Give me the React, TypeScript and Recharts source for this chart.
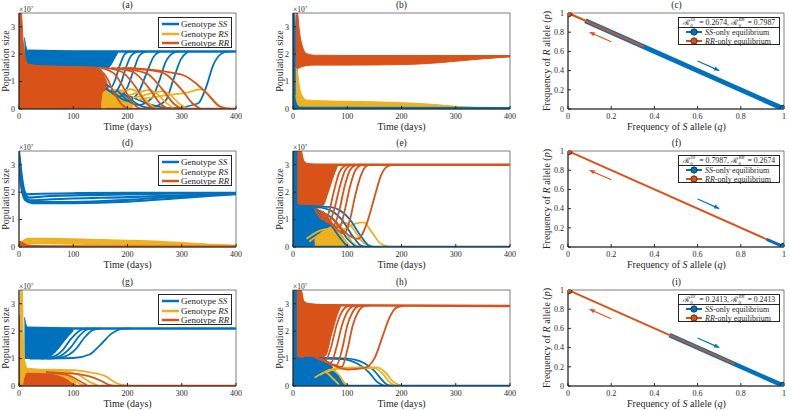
import React from 'react';
import { ComposedChart, Line, Area, Scatter, XAxis, YAxis, ReferenceArea } from 'recharts';

const BLUE = '#0072BD';
const YELLOW = '#EDB120';
const ORANGE = '#D95319';
const INK = '#262626';
const FONT = '"Liberation Serif", "DejaVu Serif", serif';

type Pts = number[][];

const timeTicks = [0, 100, 200, 300, 400];
const popTicks = [0, 1, 2, 3];
const freqTicks = [0, 0.2, 0.4, 0.6, 0.8, 1];

// population sizes in units of 1e7; bands are [t, low, high], lines are [t, value]

// (a)
const aBlueBand = [[10, 1.6, 2.6], [14, 1.6, 2.2], [18, 1.6, 2.12], [30, 1.58, 2.1], [100, 1.55, 2.1], [150, 1.52, 2.1], [165, 1.52, 2.1], [175, 1.8, 2.1], [182, 2.05, 2.1]];
const aOrangeBand = [[0, 0, 3.5], [4, 0, 3.5], [8, 0, 2.4], [12, 0, 1.85], [18, 0, 1.63], [40, 0, 1.58], [100, 0, 1.55], [145, 0, 1.52], [155, 0, 1.3], [165, 0, 0.75]];
const aYellowBand = [[152, 0, 0.1], [156, 0, 0.62], [170, 0, 0.7], [190, 0, 0.7], [200, 0, 0.4], [210, 0, 0.08]];
const aBlueTop = [[17, 2.12], [100, 2.1], [400, 2.1]];
const aBlueRise = [
  [[160, 0.9], [170, 0.8], [178, 1.1], [186, 1.6], [195, 2.0], [205, 2.1]],
  [[160, 0.75], [175, 0.6], [188, 0.95], [197, 1.5], [207, 1.95], [220, 2.1]],
  [[165, 0.7], [185, 0.45], [200, 0.8], [212, 1.45], [222, 1.95], [235, 2.1]],
  [[170, 0.7], [200, 0.3], [220, 0.6], [235, 1.3], [248, 1.9], [260, 2.1]],
  [[180, 0.7], [220, 0.15], [245, 0.4], [258, 1.0], [270, 1.7], [285, 2.05], [295, 2.1]],
  [[190, 0.6], [240, 0.05], [270, 0.3], [285, 1.1], [298, 1.8], [312, 2.1]],
  [[200, 0.5], [280, 0.03], [330, 0.2], [345, 0.8], [358, 1.6], [372, 2.0], [385, 2.1]],
];
const aYellowHump = [
  [[190, 0.6], [205, 0.72], [220, 0.6], [235, 0.3], [250, 0.05], [265, 0]],
  [[200, 0.5], [220, 0.6], [240, 0.7], [255, 0.55], [270, 0.25], [285, 0.03]],
  [[210, 0.4], [240, 0.55], [265, 0.65], [280, 0.5], [295, 0.2], [310, 0.02]],
  [[220, 0.35], [270, 0.5], [310, 0.6], [335, 0.72], [350, 0.5], [365, 0.15], [380, 0.02], [400, 0]],
];
const aOrangeFall = [
  [[140, 1.5], [160, 1.2], [175, 0.6], [190, 0.15], [205, 0]],
  [[150, 1.5], [175, 1.3], [195, 0.7], [210, 0.2], [225, 0]],
  [[160, 1.5], [190, 1.35], [215, 0.8], [235, 0.2], [250, 0]],
  [[170, 1.5], [210, 1.35], [240, 0.75], [260, 0.2], [275, 0]],
  [[180, 1.5], [235, 1.3], [265, 0.7], [285, 0.2], [300, 0]],
  [[190, 1.5], [260, 1.35], [300, 0.7], [320, 0.2], [335, 0]],
  [[200, 1.5], [300, 1.25], [345, 0.6], [370, 0.1], [390, 0]],
];
const aOrangeFloor = [[160, 0], [400, 0]];

// (b)
const bBlueBand = [[0, 0, 3.5], [3, 0, 3.5], [5, 0, 2.6], [7, 0, 1.5], [10, 0, 0.6], [15, 0, 0.25], [25, 0, 0.12], [50, 0, 0.08]];
const bOrangeBand = [[5, 1.5, 3.5], [8, 1.45, 3.5], [12, 1.5, 2.8], [18, 1.55, 2.25], [25, 1.58, 2.02], [40, 1.6, 1.96], [100, 1.6, 1.95], [200, 1.62, 1.95], [250, 1.66, 1.95], [300, 1.74, 1.95], [350, 1.83, 1.95], [400, 1.9, 1.95]];
const bYellowBand = [[5, 0.5, 1.5], [8, 0.2, 1.4], [12, 0.1, 0.8], [18, 0.08, 0.45], [25, 0.07, 0.33], [50, 0.06, 0.3], [100, 0.05, 0.28], [150, 0.05, 0.26], [200, 0.04, 0.23], [250, 0.03, 0.18], [300, 0.02, 0.1], [350, 0.01, 0.05], [400, 0, 0.03]];
const bBlueFloor = [[10, 0.03], [400, 0.02]];

// (d)
const dBlue = [
  [[0, 3.5], [5, 2.6], [10, 2.05], [15, 1.92], [25, 1.93], [100, 1.96], [200, 1.97], [400, 1.97]],
  [[0, 3.35], [5, 2.45], [10, 1.92], [20, 1.8], [50, 1.85], [150, 1.9], [300, 1.95], [400, 1.96]],
  [[0, 3.15], [5, 2.3], [10, 1.85], [20, 1.7], [60, 1.74], [200, 1.82], [300, 1.88], [400, 1.95]],
  [[0, 3.0], [5, 2.2], [12, 1.75], [25, 1.64], [100, 1.64], [200, 1.72], [300, 1.85], [400, 1.94]],
  [[0, 2.85], [5, 2.1], [12, 1.7], [25, 1.6], [100, 1.6], [200, 1.65], [300, 1.79], [400, 1.93]],
];
const dYellow = [
  [[0, 0], [10, 0.25], [20, 0.3], [50, 0.3], [150, 0.25], [250, 0.2], [350, 0.08], [400, 0.04]],
  [[0, 0], [10, 0.2], [25, 0.27], [100, 0.24], [200, 0.2], [300, 0.1], [400, 0.03]],
  [[0, 0], [10, 0.15], [25, 0.2], [100, 0.18], [200, 0.14], [300, 0.07], [400, 0.02]],
  [[0, 0], [10, 0.1], [30, 0.15], [150, 0.1], [300, 0.04], [400, 0.01]],
];
const dOrange = [
  [[0, 0.2], [5, 0.15], [15, 0.05], [50, 0.02], [400, 0]],
  [[0, 0.1], [10, 0.05], [30, 0.01], [400, 0]],
];

// (e)
const eBlueBand = [[0, 0, 3.5], [8, 0, 3.5], [12, 0, 1.8], [18, 0, 1.55], [40, 0, 1.45], [55, 0, 1.2], [70, 0, 0.8], [85, 0, 0.35], [100, 0, 0.05]];
const eOrangeBand = [[8, 1.6, 3.5], [15, 1.55, 3.5], [20, 1.55, 3.15], [28, 1.5, 3.03], [45, 1.45, 3.0], [55, 1.5, 3.0], [65, 2.0, 3.0], [75, 2.6, 3.0], [82, 2.95, 3.0]];
const eYellowBand = [[40, 0, 0.3], [55, 0, 0.55], [70, 0, 0.7], [85, 0, 0.6], [95, 0, 0.3], [105, 0, 0.05]];
const eOrangeTop = [[20, 3.02], [60, 3.0], [400, 3.0]];
const eBlueFall = [
  [[20, 1.5], [60, 1.4], [90, 1.0], [110, 0.4], [125, 0.05], [135, 0]],
  [[20, 1.5], [70, 1.45], [105, 1.0], [125, 0.4], [140, 0.05], [150, 0]],
  [[20, 1.45], [50, 1.3], [80, 0.9], [100, 0.3], [115, 0.02]],
  [[20, 1.4], [45, 1.2], [70, 0.8], [88, 0.3], [100, 0.02]],
];
const eYellowHump = [
  [[30, 0.2], [60, 0.6], [80, 0.8], [95, 0.6], [110, 0.15], [125, 0]],
  [[40, 0.2], [70, 0.6], [95, 0.88], [110, 0.7], [125, 0.25], [140, 0.02]],
  [[50, 0.2], [90, 0.6], [115, 0.85], [130, 0.9], [145, 0.55], [160, 0.15], [175, 0.02]],
  [[25, 0.3], [50, 0.6], [65, 0.65], [80, 0.35], [95, 0.05]],
];
const eOrangeRise = [
  [[40, 1.4], [55, 1.0], [65, 1.2], [75, 2.0], [85, 2.7], [95, 2.95], [105, 3.0]],
  [[45, 1.4], [65, 0.9], [75, 1.3], [85, 2.1], [95, 2.75], [105, 2.97], [115, 3.0]],
  [[50, 1.35], [75, 0.8], [85, 1.3], [95, 2.2], [105, 2.8], [115, 2.98], [125, 3.0]],
  [[55, 1.3], [85, 0.7], [95, 1.3], [105, 2.2], [115, 2.8], [125, 2.98], [135, 3.0]],
  [[60, 1.2], [95, 0.5], [105, 1.0], [115, 1.9], [125, 2.6], [135, 2.95], [145, 3.0]],
  [[70, 1.1], [120, 0.3], [135, 0.8], [150, 1.8], [162, 2.6], [175, 2.95], [190, 3.0]],
];
const eBlueFloor = [[0, 0], [400, 0]];

// (g)
const gBlueBand = [[10, 1.0, 2.5], [15, 1.0, 2.15], [20, 1.0, 2.1], [50, 1.0, 2.1], [60, 1.1, 2.1], [70, 1.3, 2.1], [80, 1.55, 2.1], [90, 1.8, 2.1], [100, 2.0, 2.1]];
const gOrangeBand = [[0, 0, 2.6], [2, 0, 2.0], [5, 0, 1.2], [9, 0, 0.7], [15, 0, 0.55], [50, 0, 0.5], [70, 0, 0.45], [85, 0, 0.3], [100, 0, 0.08], [110, 0, 0]];
const gYellowBand = [[2, 0, 3.5], [6, 0, 3.5], [8, 0.2, 1.8], [11, 0.4, 0.9], [15, 0.5, 0.66], [25, 0.5, 0.63], [50, 0.48, 0.6], [70, 0.42, 0.55], [90, 0.25, 0.4], [105, 0.05, 0.15]];
const gBlueTop = [[15, 2.12], [100, 2.1], [400, 2.1]];
const gBlueRise = [
  [[40, 1.0], [60, 1.05], [80, 1.3], [95, 1.7], [110, 2.0], [125, 2.1]],
  [[50, 1.0], [70, 1.05], [95, 1.4], [110, 1.8], [125, 2.05], [140, 2.1]],
  [[55, 1.0], [80, 1.05], [105, 1.35], [120, 1.75], [135, 2.03], [150, 2.1]],
  [[20, 1.0], [100, 1.02], [130, 1.15], [150, 1.5], [170, 1.9], [190, 2.08], [205, 2.1]],
];
const gYellowFall = [
  [[50, 0.6], [100, 0.58], [130, 0.5], [160, 0.35], [180, 0.1], [195, 0.02], [210, 0]],
  [[40, 0.58], [80, 0.55], [110, 0.4], [130, 0.15], [145, 0.02]],
  [[30, 0.55], [70, 0.5], [95, 0.3], [115, 0.05], [125, 0]],
];
const gOrangeFall = [
  [[50, 0.5], [100, 0.45], [130, 0.35], [150, 0.2], [165, 0.05], [175, 0]],
  [[50, 0.5], [90, 0.4], [110, 0.2], [125, 0.03]],
];
const gOrangeFloor = [[0, 0], [400, 0]];

// (h)
const hBlueBand = [[0, 0, 3.5], [8, 0, 3.5], [12, 0, 1.5], [16, 0, 1.05], [40, 0, 1.02], [60, 0, 0.95], [70, 0, 0.7], [85, 0, 0.3], [95, 0, 0.05]];
const hOrangeBand = [[7, 1.1, 3.5], [15, 1.05, 3.5], [20, 1.05, 3.1], [30, 1.05, 3.0], [50, 1.05, 2.96], [60, 1.1, 2.95], [70, 1.8, 2.94], [80, 2.5, 2.93], [88, 2.9, 2.93]];
const hOrangeTop = [[18, 3.0], [60, 2.94], [400, 2.92]];
const hBlueFall = [
  [[20, 1.03], [100, 1.0], [130, 0.85], [150, 0.55], [165, 0.2], [175, 0.03], [185, 0]],
  [[20, 1.02], [90, 0.98], [120, 0.8], [140, 0.5], [155, 0.15], [168, 0.01]],
  [[20, 1.0], [60, 0.9], [75, 0.6], [90, 0.2], [100, 0.02]],
];
const hYellowHump = [
  [[60, 0.5], [80, 0.65], [120, 0.68], [155, 0.68], [170, 0.5], [185, 0.15], [200, 0.01]],
  [[60, 0.5], [80, 0.62], [120, 0.65], [150, 0.65], [165, 0.45], [180, 0.1], [192, 0]],
  [[50, 0.4], [70, 0.6], [85, 0.4], [95, 0.1], [105, 0]],
  [[40, 0.3], [60, 0.5], [72, 0.3], [85, 0.05]],
];
const hOrangeRise = [
  [[40, 1.05], [60, 0.95], [70, 1.4], [80, 2.2], [90, 2.7], [100, 2.9], [110, 2.93]],
  [[45, 1.0], [70, 0.85], [80, 1.4], [90, 2.2], [100, 2.7], [110, 2.9], [120, 2.93]],
  [[50, 1.0], [80, 0.75], [90, 1.3], [100, 2.2], [110, 2.7], [120, 2.9], [130, 2.93]],
  [[55, 0.95], [90, 0.7], [100, 1.3], [110, 2.2], [120, 2.7], [130, 2.9], [140, 2.93]],
  [[60, 0.9], [100, 0.6], [130, 0.65], [150, 1.0], [165, 1.8], [178, 2.5], [190, 2.85], [205, 2.92]],
];
const hBlueFloor = [[0, 0], [400, 0]];

// phase planes: [q, p]
const rrEquilibrium = [[0, 1]];
const ssEquilibrium = [[1, 0]];
const arrowToR = [[0.2, 0.7], [0.1, 0.8]];
const arrowToS = [[0.6, 0.5], [0.7, 0.4]];
const cBlue = [[0.08, 0.92], [1, 0]];
const cOrange = [[0, 1], [0.35, 0.65]];
const fOrange = [[0, 1], [1, 0]];
const fBlue = [[0.92, 0.08], [1, 0]];
const iBlue = [[0.47, 0.53], [1, 0]];
const iOrange = [[0, 1], [0.77, 0.23]];

const cR0 = ['0.2674', '0.7987'];
const fR0 = ['0.7987', '0.2674'];
const iR0 = ['0.2413', '0.2413'];

const asLine = (a: Pts) => a.map(([t, v]) => ({ t, v }));
const asBand = (a: Pts) => a.map(([t, lo, hi]) => ({ t, r: [lo, hi] }));
const asPhase = (a: Pts) => a.map(([q, p]) => ({ q, p }));

const COLS = [19, 293, 568];
const ROWS = [13, 151, 290];
const PW = 217;
const PH = 96;
const ML = 30;
const MT = 6;
const MR = 6;
const MB = 22;

const tickFont = { fontSize: 8, fill: INK, fontFamily: FONT };
const axisCommon = {
  tick: tickFont,
  tickSize: -3,
  tickMargin: 7,
  stroke: INK,
  interval: 0 as const,
  allowDataOverflow: true,
};

type Series = [string, Pts, number?];

const TimePanel = ({ x, y, bands, lines }: { x: number; y: number; bands: Series[]; lines: Series[] }) => (
  <div style={{ position: 'absolute', left: x - ML, top: y - MT }}>
    <ComposedChart width={PW + ML + MR} height={PH + MT + MB} margin={{ top: MT, right: MR, bottom: 0, left: 0 }}>
      <XAxis type="number" dataKey="t" domain={[0, 400]} ticks={timeTicks} height={MB} {...axisCommon} />
      <YAxis type="number" domain={[0, 3.5]} ticks={popTicks} width={ML} {...axisCommon} />
      {bands.map(([c, d], i) => (
        <Area key={'b' + i} data={asBand(d)} dataKey="r" type="monotone" fill={c} fillOpacity={1}
          stroke={c} strokeWidth={1} dot={false} activeDot={false} isAnimationActive={false} />
      ))}
      {lines.map(([c, d, w], i) => (
        <Line key={'l' + i} data={asLine(d)} dataKey="v" type="monotone" stroke={c} strokeWidth={w ?? 1.8}
          dot={false} activeDot={false} isAnimationActive={false} />
      ))}
      <ReferenceArea x1={0} x2={400} y1={0} y2={3.5} fill="none" stroke={INK} strokeWidth={0.6} ifOverflow="visible" />
    </ComposedChart>
  </div>
);

const arrowHead = (c: string, d: Pts) => (props: any) => {
  const { cx, cy, index } = props;
  if (index !== d.length - 1) return <g key={index} />;
  const [q0, p0] = d[d.length - 2];
  const [q1, p1] = d[d.length - 1];
  const a = Math.atan2(-(p1 - p0) * PH, (q1 - q0) * (PW - 1));
  const L = 5;
  const W = 2.2;
  const bx = cx - L * Math.cos(a);
  const by = cy - L * Math.sin(a);
  const pts = `${cx},${cy} ${bx - W * Math.sin(a)},${by + W * Math.cos(a)} ${bx + W * Math.sin(a)},${by - W * Math.cos(a)}`;
  return <polygon key={index} points={pts} fill={c} />;
};

const eqDot = (c: string) => (props: any) => (
  <circle cx={props.cx} cy={props.cy} r={4} fill={c} stroke="#1a1a1a" strokeWidth={0.8} />
);

const PhasePanel = ({ x, y, lines }: { x: number; y: number; lines: Series[] }) => (
  <div style={{ position: 'absolute', left: x - ML, top: y - MT }}>
    <ComposedChart width={PW - 1 + ML + MR} height={PH + MT + MB} margin={{ top: MT, right: MR, bottom: 0, left: 0 }}>
      <XAxis type="number" dataKey="q" domain={[0, 1]} ticks={freqTicks} height={MB} {...axisCommon} />
      <YAxis type="number" dataKey="p" domain={[0, 1]} ticks={freqTicks} width={ML} {...axisCommon} />
      {lines.map(([c, d, w], i) => (
        <Line key={'l' + i} data={asPhase(d)} dataKey="p" type="linear" stroke={c} strokeWidth={w ?? 2}
          dot={false} activeDot={false} isAnimationActive={false} />
      ))}
      <Line data={asPhase(arrowToR)} dataKey="p" type="linear" stroke={ORANGE} strokeWidth={1.2}
        dot={arrowHead(ORANGE, arrowToR)} activeDot={false} isAnimationActive={false} />
      <Line data={asPhase(arrowToS)} dataKey="p" type="linear" stroke={BLUE} strokeWidth={1.2}
        dot={arrowHead(BLUE, arrowToS)} activeDot={false} isAnimationActive={false} />
      <Scatter data={asPhase(rrEquilibrium)} shape={eqDot(ORANGE)} isAnimationActive={false} />
      <Scatter data={asPhase(ssEquilibrium)} shape={eqDot(BLUE)} isAnimationActive={false} />
      <ReferenceArea x1={0} x2={1} y1={0} y2={1} fill="none" stroke={INK} strokeWidth={0.6} ifOverflow="visible" />
    </ComposedChart>
  </div>
);

const T = ({ x, y, size = 10, rot = 0, children }: { x: number; y: number; size?: number; rot?: number; children: React.ReactNode }) => (
  <div style={{
    position: 'absolute', left: x, top: y, transform: `translate(-50%, -50%) rotate(${rot}deg)`,
    fontSize: size, fontFamily: FONT, color: INK, whiteSpace: 'nowrap', lineHeight: 1,
  }}>{children}</div>
);

const genotypes: [string, string][] = [[BLUE, 'SS'], [YELLOW, 'RS'], [ORANGE, 'RR']];

const GenoLegend = ({ x, y }: { x: number; y: number }) => (
  <div style={{
    position: 'absolute', left: x, top: y, width: 74, height: 31, border: `0.8px solid ${INK}`,
    background: '#fff', boxSizing: 'border-box', fontFamily: FONT, fontSize: 9, color: INK,
  }}>
    {genotypes.map(([c, g], i) => (
      <div key={g} style={{ position: 'absolute', left: 3, top: 1.5 + i * 9.5, height: 9.5, display: 'flex', alignItems: 'center', whiteSpace: 'nowrap' }}>
        <svg width={17} height={4}><line x1={0} y1={2} x2={17} y2={2} stroke={c} strokeWidth={2.5} /></svg>
        <span style={{ marginLeft: 2 }}>Genotype <i>{g}</i></span>
      </div>
    ))}
  </div>
);

// script R with stacked superscript genotype and subscript 0
const R0 = ({ s }: { s: string }) => (
  <span style={{ whiteSpace: 'nowrap' }}>
    ℛ
    <span style={{ display: 'inline-block', position: 'relative', width: 7.5, height: 8, verticalAlign: 'middle' }}>
      <i style={{ position: 'absolute', left: 0.5, top: -2, fontSize: 5, lineHeight: 1 }}>{s}</i>
      <span style={{ position: 'absolute', left: 0.5, top: 4, fontSize: 5, lineHeight: 1 }}>0</span>
    </span>
  </span>
);

const EqLegend = ({ x, y, r0 }: { x: number; y: number; r0: string[] }) => (
  <div style={{
    position: 'absolute', left: x, top: y, width: 102, height: 28, border: `0.8px solid ${INK}`,
    background: '#fff', boxSizing: 'border-box', fontFamily: FONT, fontSize: 8, color: INK,
  }}>
    <div style={{ height: 9, borderBottom: `0.6px solid ${INK}`, fontSize: 7.8, textAlign: 'center', lineHeight: '9px', whiteSpace: 'nowrap' }}>
      <R0 s="SS" /> = {r0[0]}, <R0 s="RR" /> = {r0[1]}
    </div>
    {([[BLUE, 'SS'], [ORANGE, 'RR']] as [string, string][]).map(([c, g], i) => (
      <div key={g} style={{ position: 'absolute', left: 7, top: 10 + i * 8.7, height: 8.7, display: 'flex', alignItems: 'center', whiteSpace: 'nowrap' }}>
        <svg width={16} height={8}>
          <line x1={0} y1={4} x2={16} y2={4} stroke={c} strokeWidth={2} />
          <circle cx={8} cy={4} r={3.2} fill={c} stroke="#1a1a1a" strokeWidth={0.7} />
        </svg>
        <span style={{ marginLeft: 3 }}><i>{g}</i>-only equilibrium</span>
      </div>
    ))}
  </div>
);

const Exp = ({ x, y }: { x: number; y: number }) => (
  <div style={{ position: 'absolute', left: x, top: y - 8, fontSize: 7.5, fontFamily: FONT, color: INK, whiteSpace: 'nowrap', lineHeight: 1 }}>
    ×10<sup style={{ fontSize: 5, verticalAlign: '3px' }}>7</sup>
  </div>
);

const timeCols = [0, 1];
const titles = [['(a)', '(b)', '(c)'], ['(d)', '(e)', '(f)'], ['(g)', '(h)', '(i)']];

export default function App() {
  const timePanels: { bands: Series[]; lines: Series[] }[][] = [
    [
      {
        bands: [[BLUE, aBlueBand], [ORANGE, aOrangeBand], [YELLOW, aYellowBand]],
        lines: [
          [BLUE, aBlueTop, 2.5],
          ...aBlueRise.map((d) => [BLUE, d] as Series),
          ...aYellowHump.map((d) => [YELLOW, d] as Series),
          ...aOrangeFall.map((d) => [ORANGE, d] as Series),
          [ORANGE, aOrangeFloor, 2.5],
        ],
      },
      {
        bands: [[BLUE, bBlueBand], [ORANGE, bOrangeBand], [YELLOW, bYellowBand]],
        lines: [[BLUE, bBlueFloor, 3]],
      },
    ],
    [
      {
        bands: [],
        lines: [
          ...dBlue.map((d) => [BLUE, d, 2.2] as Series),
          ...dYellow.map((d) => [YELLOW, d, 2.2] as Series),
          ...dOrange.map((d) => [ORANGE, d, 2.5] as Series),
        ],
      },
      {
        bands: [[BLUE, eBlueBand], [ORANGE, eOrangeBand], [YELLOW, eYellowBand]],
        lines: [
          ...eYellowHump.map((d) => [YELLOW, d] as Series),
          ...eBlueFall.map((d) => [BLUE, d] as Series),
          ...eOrangeRise.map((d) => [ORANGE, d] as Series),
          [ORANGE, eOrangeTop, 2.5],
          [BLUE, eBlueFloor, 2.5],
        ],
      },
    ],
    [
      {
        bands: [[BLUE, gBlueBand], [ORANGE, gOrangeBand], [YELLOW, gYellowBand]],
        lines: [
          [BLUE, gBlueTop, 2.5],
          ...gBlueRise.map((d) => [BLUE, d] as Series),
          ...gYellowFall.map((d) => [YELLOW, d] as Series),
          ...gOrangeFall.map((d) => [ORANGE, d] as Series),
          [ORANGE, gOrangeFloor, 2.5],
        ],
      },
      {
        bands: [[BLUE, hBlueBand], [ORANGE, hOrangeBand]],
        lines: [
          ...hBlueFall.map((d) => [BLUE, d] as Series),
          ...hYellowHump.map((d) => [YELLOW, d] as Series),
          ...hOrangeRise.map((d) => [ORANGE, d] as Series),
          [ORANGE, hOrangeTop, 2.5],
          [BLUE, hBlueFloor, 2.5],
        ],
      },
    ],
  ];
  const phaseLines: Series[][] = [
    [[BLUE, cBlue, 5], [ORANGE, cOrange, 2.2]],
    [[ORANGE, fOrange, 2], [BLUE, fBlue, 3]],
    [[BLUE, iBlue, 4.5], [ORANGE, iOrange, 2]],
  ];
  const r0s = [cR0, fR0, iR0];

  return (
    <div style={{ position: 'absolute', left: 0, top: 0, width: 789, height: 411, background: '#fff', overflow: 'hidden' }}>
      {ROWS.map((y, r) => (
        <React.Fragment key={r}>
          {timeCols.map((c) => (
            <React.Fragment key={c}>
              <TimePanel x={COLS[c]} y={y} bands={timePanels[r][c].bands} lines={timePanels[r][c].lines} />
              <Exp x={COLS[c]} y={y} />
              <T x={COLS[c] + PW / 2} y={y - 7} size={9.5}>{titles[r][c]}</T>
              <T x={COLS[c] + PW / 2} y={y + PH + 18}>Time (days)</T>
              <T x={COLS[c] - 13} y={y + PH / 2} rot={-90}>Population size</T>
            </React.Fragment>
          ))}
          <GenoLegend x={158} y={y + 4} />
          <PhasePanel x={COLS[2]} y={y} lines={phaseLines[r]} />
          <T x={COLS[2] + PW / 2} y={y - 7} size={9.5}>{titles[r][2]}</T>
          <T x={COLS[2] + PW / 2} y={y + PH + 18}>Frequency of <i>S</i> allele (<i>q</i>)</T>
          <T x={COLS[2] - 21} y={y + PH / 2} rot={-90}>Frequency of <i>R</i> allele (<i>p</i>)</T>
          <EqLegend x={678} y={y + 4} r0={r0s[r]} />
        </React.Fragment>
      ))}
    </div>
  );
}
